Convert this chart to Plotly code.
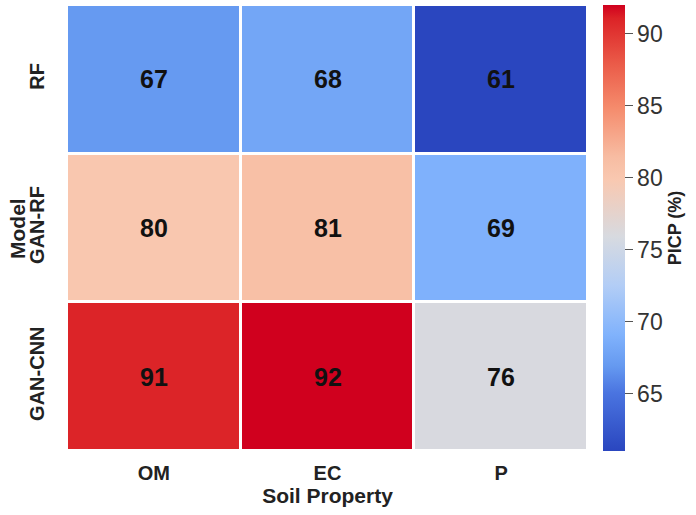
import plotly.graph_objects as go

models = ["RF", "GAN-RF", "GAN-CNN"]
properties = ["OM", "EC", "P"]
picp_rf = [67, 68, 61]
picp_ganrf = [80, 81, 69]
picp_gancnn = [91, 92, 76]
colorbar_ticks = [65, 70, 75, 80, 85, 90]

z = [picp_rf, picp_ganrf, picp_gancnn]
text = [[f"<b>{v}</b>" for v in row] for row in z]

FONT = "Liberation Sans, Arial"

colorscale = [
    [0.0, "#2a46bf"],
    [0.13, "#4a74e0"],
    [0.19, "#6599f0"],
    [0.26, "#80b2fc"],
    [0.37, "#b2cdf6"],
    [0.48, "#d7dae0"],
    [0.61, "#f9c8b0"],
    [0.66, "#f7bca2"],
    [0.77, "#f58b6c"],
    [0.87, "#ea5a48"],
    [0.97, "#dc2327"],
    [1.0, "#d0001e"],
]

fig = go.Figure(go.Heatmap(
    z=z, x=properties, y=models,
    text=text, texttemplate="%{text}",
    textfont=dict(size=25, color="#111", family=FONT),
    colorscale=colorscale, zmin=61, zmax=92,
    xgap=3, ygap=3,
    colorbar=dict(
        x=1.029, xanchor="left", xpad=0, y=0.5, yanchor="middle",
        len=1.0, lenmode="fraction", ypad=0,
        thickness=22, outlinewidth=0,
        tickvals=colorbar_ticks, ticks="outside", ticklen=8, tickcolor="#555",
        tickfont=dict(size=23, color="#333", family=FONT),
        title=dict(text="<b>PICP (%)</b>", side="right",
                   font=dict(size=18, color="#222", family=FONT)),
    ),
))

fig.update_layout(
    width=696, height=515,
    margin=dict(l=67, r=108, t=5, b=64, autoexpand=False),
    plot_bgcolor="white", paper_bgcolor="white",
    font=dict(family=FONT, color="#222"),
    annotations=[dict(
        text="<b>Model</b>", textangle=-90, showarrow=False,
        xref="paper", yref="paper", x=-0.096, y=0.5,
        xanchor="center", yanchor="middle",
        font=dict(size=21, color="#222", family=FONT),
    )],
)
fig.update_xaxes(
    automargin=False,
    tickfont=dict(size=20, color="#222"), showgrid=False, zeroline=False,
    tickvals=properties, ticktext=[f"<b>{p}</b>" for p in properties],
    title=dict(text="<b>Soil Property</b>", font=dict(size=21), standoff=4),
    ticks="", ticklabelstandoff=8,
)
fig.update_yaxes(
    automargin=False,
    autorange="reversed", tickangle=-90,
    tickfont=dict(size=20, color="#222"), showgrid=False, zeroline=False,
    tickvals=models, ticktext=[f"<b>{m}</b>" for m in models],
    ticks="", ticklabelstandoff=18,
)

fig.write_html("out.html", config={"displayModeBar": False},
               post_script="document.body.style.margin='0';")
